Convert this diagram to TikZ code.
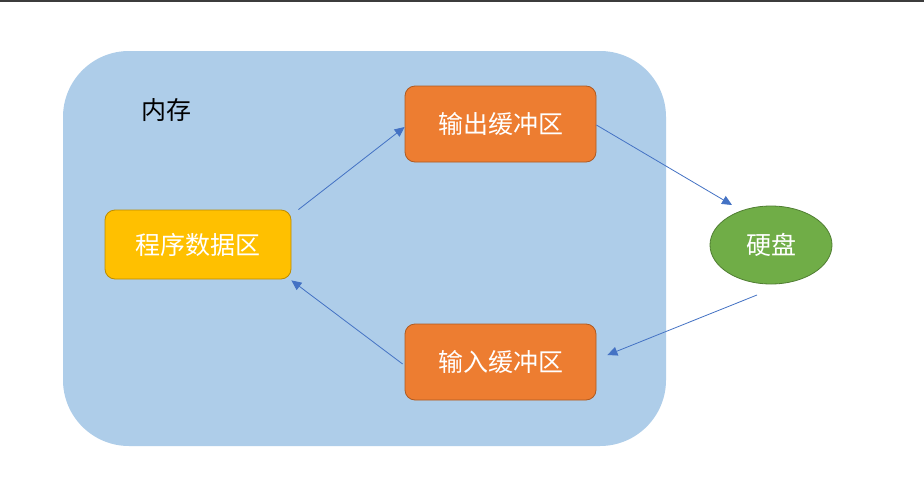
\documentclass[tikz,border=0pt]{standalone}
\usepackage{fontspec}
\newfontfamily\cjk{Noto Sans CJK SC}
\usetikzlibrary{shapes.geometric,arrows.meta}
\definecolor{memblue}{HTML}{AECDE9}
\definecolor{orangef}{HTML}{ED7D31}
\definecolor{oranged}{HTML}{AE5A21}
\definecolor{goldf}{HTML}{FFC000}
\definecolor{goldd}{HTML}{BC8C00}
\definecolor{greenf}{HTML}{70AD47}
\definecolor{greend}{HTML}{507E32}
\definecolor{arrowc}{HTML}{4472C4}
\definecolor{topbar}{HTML}{3C3C3C}
\tikzset{
  box/.style={rounded corners=10pt, minimum width=191pt, minimum height=76pt, inner sep=0pt,
    font=\cjk\fontsize{25}{29}\selectfont, text=white, line width=0.8pt},
  bufbox/.style={box, fill=orangef, draw=oranged},
  progbox/.style={box, fill=goldf, draw=goldd, minimum width=186pt, minimum height=69pt},
  diskshape/.style={ellipse, fill=greenf, draw=greend, line width=0.8pt, minimum width=122pt, minimum height=78pt,
    inner sep=0pt, font=\cjk\fontsize{25}{29}\selectfont, text=white},
  conn/.style={draw=arrowc, line width=0.8pt, -{Triangle[length=10pt,width=9pt]}}
}
\begin{document}
\begin{tikzpicture}[x=1pt,y=-1pt]
\useasboundingbox (0,0) rectangle (924,482);
\fill[white] (0,0) rectangle (924,482);
\fill[topbar] (0,0) rectangle (924,2);
\fill[memblue, rounded corners=66pt] (63,51) rectangle (666,446);
\node[font=\cjk\fontsize{25}{29}\selectfont, text=black] (mem) at (166,110) {内存};
\node[bufbox] (out) at (500.5,124) {输出缓冲区};
\node[bufbox] (in) at (500.5,362) {输入缓冲区};
\node[progbox] (prog) at (198,244.5) {程序数据区};
\node[diskshape] (disk) at (771,245) {硬盘};
\draw[conn] ([xshift=7pt]prog.north east) -- ([yshift=-3pt]out.west);
\draw[conn] ([yshift=-1pt]out.east) -- ([shift={(-39,-40)}]disk.center);
\draw[conn] ([shift={(-14,50)}]disk.center) -- ([xshift=11pt,yshift=7pt]in.east);
\draw[conn] ([xshift=-2pt,yshift=-2pt]in.west) -- ([yshift=-1pt]prog.south east);
\end{tikzpicture}
\end{document}
